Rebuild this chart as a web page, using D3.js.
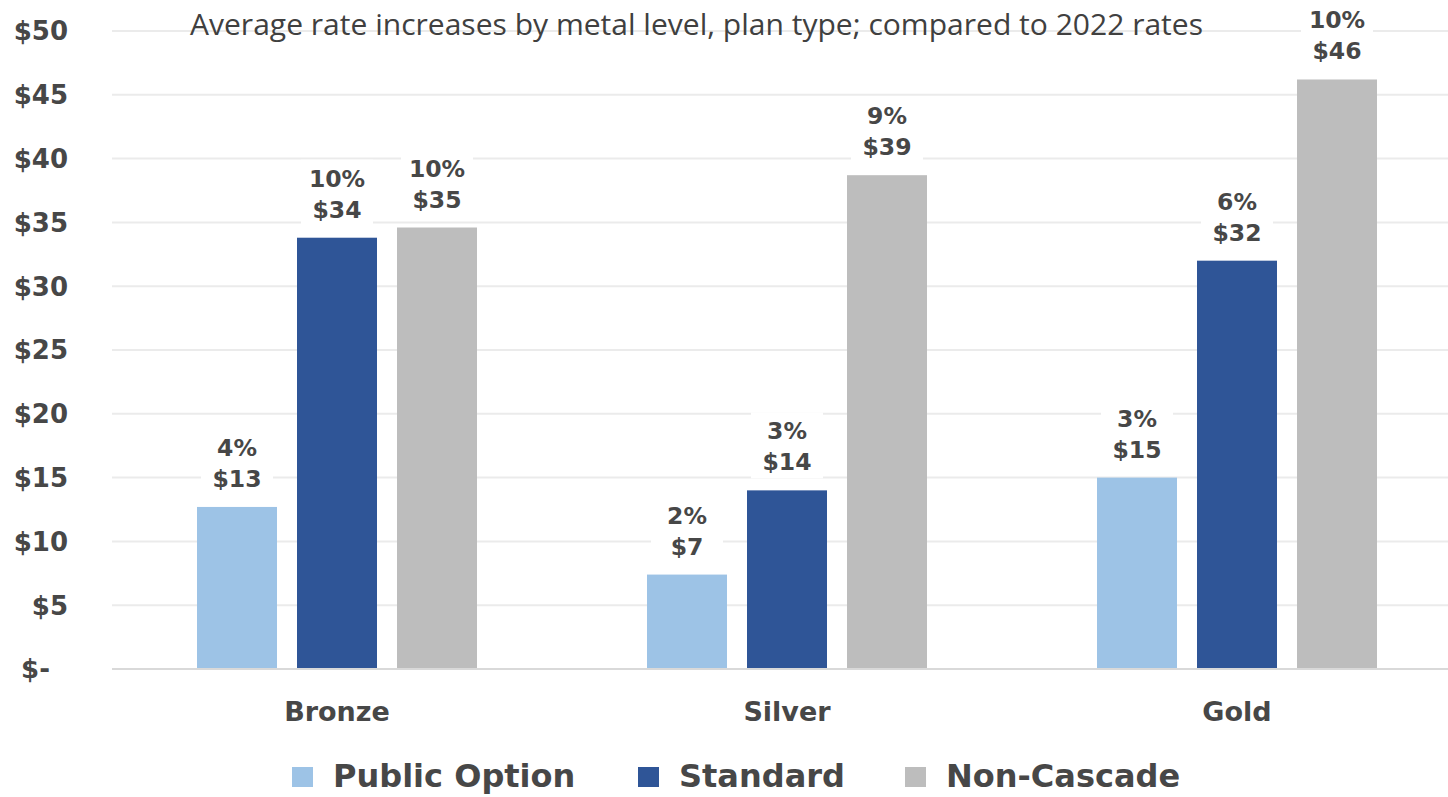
<!DOCTYPE html>
<html>
<head>
<meta charset="utf-8">
<script src="https://cdn.jsdelivr.net/npm/d3@7"></script>
<style>
  body { margin: 0; background: #fff; }
  svg { display: block; }
</style>
</head>
<body>
<svg id="chart" width="1448" height="797"></svg>
<script>
// chart data
const metals = ['Bronze', 'Silver', 'Gold'];
const planTypes = ['Public Option', 'Standard', 'Non-Cascade'];
const publicOption = [12.7, 7.4, 15.0];
const standard = [33.8, 14.0, 32.0];
const nonCascade = [34.6, 38.7, 46.2];
const publicPct = ['4%', '2%', '3%'];
const standardPct = ['10%', '3%', '6%'];
const nonCascadePct = ['10%', '9%', '10%'];
const yTicks = [0, 5, 10, 15, 20, 25, 30, 35, 40, 45, 50];
const title = 'Average rate increases by metal level, plan type; compared to 2022 rates';

const colors = ['#9DC3E6', '#2F5597', '#BDBDBD'];
const textColor = '#474747';
const boldFont = '"DejaVu Sans", Verdana, sans-serif';

const svg = d3.select('#chart');

const x0 = d3.scaleBand().domain(metals).range([112, 1462]);
const x1 = d3.scaleBand().domain(planTypes).range([85, 365]).paddingInner(0.2);
const y = d3.scaleLinear().domain([0, 50]).range([669, 31]);

// gridlines
svg.append('g')
  .selectAll('line')
  .data(yTicks.filter(d => d > 0))
  .join('line')
  .attr('x1', 112).attr('x2', 1448)
  .attr('y1', d => y(d)).attr('y2', d => y(d))
  .attr('stroke', '#EBEBEB')
  .attr('stroke-width', 2);

// y tick labels ($- sits left like accounting format)
svg.append('g')
  .selectAll('text')
  .data(yTicks)
  .join('text')
  .attr('x', d => d === 0 ? 50 : 68)
  .attr('y', d => y(d))
  .attr('dy', '0.36em')
  .attr('text-anchor', 'end')
  .attr('font-family', boldFont)
  .attr('font-weight', 'bold')
  .attr('font-size', 26)
  .attr('fill', textColor)
  .text(d => d === 0 ? '$-' : '$' + d);

// title
svg.append('text')
  .attr('x', 190)
  .attr('y', 35)
  .attr('font-family', '"Open Sans", sans-serif')
  .attr('font-size', 30)
  .attr('fill', '#404040')
  .attr('textLength', 1013)
  .attr('lengthAdjust', 'spacingAndGlyphs')
  .text(title);

const rows = metals.map((m, i) => ({
  metal: m,
  items: [
    { type: planTypes[0], value: publicOption[i], pct: publicPct[i] },
    { type: planTypes[1], value: standard[i], pct: standardPct[i] },
    { type: planTypes[2], value: nonCascade[i], pct: nonCascadePct[i] }
  ]
}));

const groups = svg.append('g')
  .selectAll('g')
  .data(rows)
  .join('g')
  .attr('transform', d => `translate(${x0(d.metal)},0)`);

// bar labels with white boxes behind them
const labels = groups.selectAll('g.lbl')
  .data(d => d.items)
  .join('g')
  .attr('class', 'lbl')
  .attr('transform', d => `translate(${x1(d.type) + x1.bandwidth() / 2},${y(d.value)})`);

labels.append('rect')
  .attr('x', -36).attr('y', -78)
  .attr('width', 72).attr('height', 66)
  .attr('fill', '#fff');

labels.append('text')
  .attr('y', -51)
  .attr('text-anchor', 'middle')
  .attr('font-family', boldFont)
  .attr('font-weight', 'bold')
  .attr('font-size', 23.5)
  .attr('fill', textColor)
  .text(d => d.pct);

labels.append('text')
  .attr('y', -20)
  .attr('text-anchor', 'middle')
  .attr('font-family', boldFont)
  .attr('font-weight', 'bold')
  .attr('font-size', 23.5)
  .attr('fill', textColor)
  .text(d => '$' + Math.round(d.value));

// baseline
svg.append('line')
  .attr('x1', 112).attr('x2', 1448)
  .attr('y1', y(0)).attr('y2', y(0))
  .attr('stroke', '#D9D9D9')
  .attr('stroke-width', 2);

// bars
groups.selectAll('rect.bar')
  .data(d => d.items)
  .join('rect')
  .attr('class', 'bar')
  .attr('x', d => x1(d.type))
  .attr('y', d => y(d.value))
  .attr('width', x1.bandwidth())
  .attr('height', d => y(0) - y(d.value))
  .attr('fill', (d, i) => colors[i]);

// x labels
svg.append('g')
  .selectAll('text')
  .data(metals)
  .join('text')
  .attr('x', d => x0(d) + x0.bandwidth() / 2)
  .attr('y', 721)
  .attr('text-anchor', 'middle')
  .attr('font-family', boldFont)
  .attr('font-weight', 'bold')
  .attr('font-size', 27)
  .attr('fill', textColor)
  .text(d => d);

// legend
const legendX = [292, 638, 905];
const legend = svg.append('g')
  .selectAll('g')
  .data(planTypes)
  .join('g')
  .attr('transform', (d, i) => `translate(${legendX[i]},767)`);

legend.append('rect')
  .attr('width', 21).attr('height', 20)
  .attr('fill', (d, i) => colors[i]);

legend.append('text')
  .attr('x', 41)
  .attr('y', 20)
  .attr('font-family', boldFont)
  .attr('font-weight', 'bold')
  .attr('font-size', 32)
  .attr('fill', textColor)
  .text(d => d);
</script>
</body>
</html>
